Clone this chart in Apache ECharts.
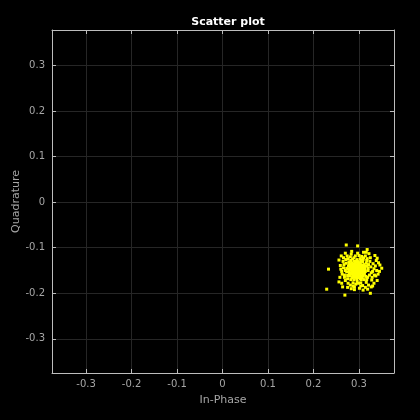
<!DOCTYPE html>
<html><head><meta charset="utf-8">
<script src="https://cdn.jsdelivr.net/npm/echarts@6/dist/echarts.min.js"></script>
<style>html,body{margin:0;padding:0;background:#000}#c{width:420px;height:420px}</style>
</head><body><div id="c"></div>
<script>
var tickValues = [-0.3, -0.2, -0.1, 0, 0.1, 0.2, 0.3];
var tickLabels = ['-0.3', '-0.2', '-0.1', '0', '0.1', '0.2', '0.3'];
var inPhase = [
0.295,0.301,0.288,0.297,0.310,0.283,0.292,0.305,0.279,0.299,
0.314,0.286,0.293,0.303,0.276,0.308,0.290,0.318,0.282,0.297,
0.300,0.291,0.306,0.285,0.312,0.273,0.296,0.289,0.320,0.280,
0.302,0.294,0.287,0.309,0.298,0.284,0.316,0.291,0.304,0.277,
0.323,0.296,0.282,0.311,0.289,0.303,0.272,0.326,0.268,0.295,
0.299,0.287,0.307,0.293,0.301,0.285,0.313,0.279,0.297,0.290,
0.319,0.275,0.304,0.281,0.310,0.330,0.266,0.293,0.316,0.271,
0.300,0.294,0.288,0.306,0.291,0.298,0.284,0.311,0.302,0.278,
0.324,0.262,0.287,0.300,0.334,0.270,0.314,0.283,0.328,0.259,
0.296,0.289,0.305,0.292,0.299,0.286,0.308,0.281,0.303,0.294,
0.318,0.276,0.308,0.290,0.265,0.336,0.321,0.274,0.297,0.338,
0.301,0.293,0.287,0.309,0.297,0.283,0.312,0.290,0.305,0.280,
0.272,0.297,0.318,0.233,0.229,0.269,0.325,0.256,0.350,0.343,
0.335,0.330,0.337,0.256,0.261,0.345,0.340,0.264,0.283,0.309,
0.296,0.291,0.302,0.288,0.306,0.294,0.299,0.285,0.310,0.292,
0.315,0.278,0.304,0.286,0.327,0.268,0.321,0.273,0.299,0.281,
0.303,0.290,0.297,0.285,0.311,0.279,0.307,0.294,0.300,0.288,
0.333,0.263,0.317,0.276,0.292,0.306,0.325,0.342,0.314,0.287,
0.298,0.295,0.301,0.289,0.307,0.284,0.313,0.292,0.304,0.282,
0.320,0.270,0.295,0.296,0.317,0.275,0.309,0.279,0.329,0.267,
0.346,0.340,0.331,0.322,0.310,0.284,0.270,0.258,0.262,0.275,
0.301,0.319,0.333,0.339,0.304,0.290,0.327,0.260,0.266,0.316
];
var quadrature = [
-0.148,-0.142,-0.151,-0.160,-0.145,-0.139,-0.133,-0.155,-0.156,-0.137,
-0.152,-0.164,-0.145,-0.168,-0.146,-0.131,-0.158,-0.140,-0.128,-0.152,
-0.149,-0.141,-0.162,-0.147,-0.158,-0.153,-0.126,-0.170,-0.150,-0.162,
-0.136,-0.155,-0.143,-0.148,-0.165,-0.133,-0.134,-0.150,-0.145,-0.140,
-0.160,-0.174,-0.170,-0.170,-0.122,-0.124,-0.134,-0.142,-0.160,-0.139,
-0.158,-0.156,-0.139,-0.163,-0.151,-0.152,-0.146,-0.148,-0.144,-0.136,
-0.165,-0.168,-0.177,-0.120,-0.122,-0.152,-0.144,-0.180,-0.176,-0.126,
-0.142,-0.148,-0.139,-0.152,-0.154,-0.131,-0.158,-0.137,-0.161,-0.152,
-0.130,-0.152,-0.177,-0.117,-0.160,-0.172,-0.118,-0.114,-0.171,-0.139,
-0.157,-0.146,-0.143,-0.138,-0.166,-0.149,-0.157,-0.143,-0.133,-0.161,
-0.124,-0.178,-0.183,-0.186,-0.130,-0.140,-0.182,-0.118,-0.112,-0.128,
-0.146,-0.151,-0.160,-0.162,-0.135,-0.145,-0.152,-0.130,-0.170,-0.135,
-0.094,-0.096,-0.104,-0.147,-0.191,-0.204,-0.200,-0.175,-0.145,-0.133,
-0.117,-0.184,-0.162,-0.127,-0.118,-0.152,-0.172,-0.186,-0.190,-0.193,
-0.150,-0.144,-0.155,-0.153,-0.147,-0.142,-0.153,-0.141,-0.150,-0.165,
-0.163,-0.131,-0.128,-0.125,-0.155,-0.165,-0.137,-0.145,-0.178,-0.182,
-0.139,-0.161,-0.141,-0.166,-0.143,-0.158,-0.166,-0.129,-0.159,-0.148,
-0.146,-0.158,-0.128,-0.124,-0.118,-0.119,-0.122,-0.158,-0.187,-0.184,
-0.146,-0.154,-0.138,-0.142,-0.154,-0.150,-0.141,-0.156,-0.164,-0.155,
-0.145,-0.150,-0.168,-0.130,-0.170,-0.161,-0.126,-0.137,-0.165,-0.137,
-0.138,-0.123,-0.135,-0.113,-0.110,-0.108,-0.112,-0.165,-0.178,-0.187,
-0.189,-0.191,-0.178,-0.150,-0.184,-0.192,-0.186,-0.147,-0.122,-0.110
];
var points = inPhase.map(function (v, i) { return [v, quadrature[i]]; });

var font = 'DejaVu Sans';
var gray = '#a6a6a6';
function axisBase(show, min, max) {
  return {
    type: 'value', min: min, max: max,
    nameMoveOverlap: false,
    axisLine: { show: true, onZero: false, lineStyle: { color: '#bdbdbd', width: 1 } },
    axisTick: { show: true, inside: true, length: 4, customValues: tickValues, lineStyle: { color: '#bdbdbd' } },
    axisLabel: { show: show, customValues: tickValues, color: gray, fontFamily: font, fontSize: 10,
      formatter: function (v) { var i = tickValues.indexOf(Math.round(v * 10) / 10); return i >= 0 ? tickLabels[i] : ''; } },
    splitLine: { show: show, lineStyle: { color: '#262626', width: 1 } }
  };
}
var xa = axisBase(true, -0.375, 0.377);
xa.name = 'In-Phase'; xa.nameLocation = 'middle'; xa.nameGap = 22;
xa.nameTextStyle = { color: gray, fontFamily: font, fontSize: 11 };
xa.axisLabel.margin = 6;
var ya = axisBase(true, -0.375, 0.378);
ya.name = 'Quadrature'; ya.nameLocation = 'middle'; ya.nameGap = 30;
ya.nameTextStyle = { color: gray, fontFamily: font, fontSize: 11 };
ya.axisLabel.margin = 7;
var xt = axisBase(false, -0.375, 0.377); xt.position = 'top';
var yr = axisBase(false, -0.375, 0.378); yr.position = 'right';

var chart = echarts.init(document.getElementById('c'), null, { renderer: 'canvas' });
chart.setOption({
  backgroundColor: '#000',
  animation: false,
  title: { text: 'Scatter plot', left: 223, top: 12, textAlign: 'center',
    textStyle: { color: '#ffffff', fontFamily: font, fontSize: 11, fontWeight: 'bold' } },
  grid: { left: 52, right: 26, top: 30, bottom: 47, containLabel: false, outerBoundsMode: 'none' },
  xAxis: [xa, xt],
  yAxis: [ya, yr],
  series: [{
    type: 'scatter', data: points, symbol: 'rect', symbolSize: 3,
    itemStyle: { color: '#ffff00', opacity: 1 }
  }]
});
</script></body></html>
